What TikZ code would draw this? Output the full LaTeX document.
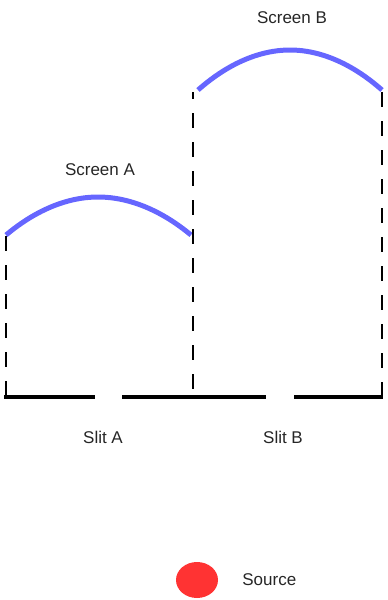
\documentclass[tikz,border=0pt]{standalone}
\usepackage{fontspec}
\setmainfont{Liberation Sans}
\usepackage{xcolor}
\usetikzlibrary{positioning,shapes.geometric}

\definecolor{screenblue}{RGB}{102,102,255}
\definecolor{sourcered}{RGB}{255,51,51}

\begin{document}
\begin{tikzpicture}[x=1pt,y=-1pt, screen/.style={draw=screenblue,line width=5pt}, wall/.style={draw=black,line width=4pt}, guide/.style={draw=black,line width=2.7pt,dash pattern=on 15pt off 14pt}, lbl/.style={font=\fontsize{17}{20}\selectfont,inner sep=0pt,text=black!85}]
\useasboundingbox (0,0) rectangle (388,600);
% slit wall
\coordinate (w0) at (4,397);
\coordinate (w1) at (95,397);
\coordinate (w2) at (122,397);
\coordinate (wm) at (193,397);
\coordinate (w3) at (266,397);
\coordinate (w4) at (294,397);
\coordinate (w5) at (383,397);
\draw[wall] (w0) -- (w1);
\draw[wall] (w2) -- (wm) -- (w3);
\draw[wall] (w4) -- (w5);
% screen ends
\coordinate (al) at (6,235);
\coordinate (ar) at (191,235);
\coordinate (bl) at (198,90);
\coordinate (br) at (382,90);
\coordinate (bm) at (193,92);
\draw[screen] (al) parabola bend (98,197) (ar);
\draw[screen] (bl) parabola bend (290,50) (br);
% guides
\draw[guide] (6,236) -- (6,397);
\draw[guide,dash phase=8pt] (bm) -- (wm);
\draw[guide] (382,92) -- (382,397);
\node[lbl] (scrA) at (100,170) {Screen A};
\node[lbl] (scrB) at (292,18) {Screen B};
\node[lbl] (slitA) at (103,437) {Slit A};
\node[lbl] (slitB) at (283,437) {Slit B};
\node[ellipse,fill=sourcered,minimum width=42pt,minimum height=36pt,inner sep=0pt] (src) at (197,580) {};
\node[lbl,right=24pt of src] (srcl) {Source};
\end{tikzpicture}
\end{document}
